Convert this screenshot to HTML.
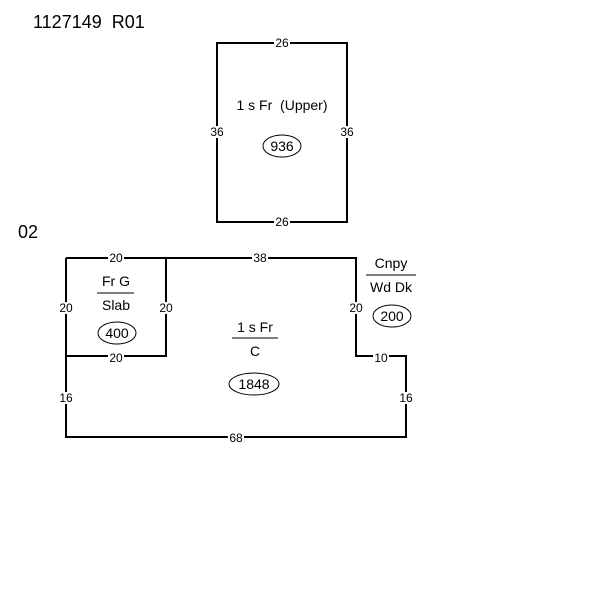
<!DOCTYPE html>
<html><head><style>body{margin:0;background:#fff}svg{display:block}text{font-family:"Liberation Sans",sans-serif;fill:#000;white-space:pre}</style></head>
<body>
<svg width="600" height="600" xmlns="http://www.w3.org/2000/svg">
<text x="33" y="28" font-size="18" xml:space="preserve">1127149  R01</text>
<text x="18" y="238" font-size="18">02</text>
<g fill="none" stroke="#000" stroke-width="2">
<rect x="217" y="43" width="130" height="179"/>
<polyline points="66,258 356,258 356,356 406,356 406,437 66,437 66,258"/>
<polyline points="166,258 166,356 66,356"/>
<line x1="97" y1="293" x2="134" y2="293" stroke-width="1"/>
<line x1="232" y1="338" x2="278" y2="338" stroke-width="1"/>
<line x1="366" y1="275" x2="416" y2="275" stroke-width="1"/>
<ellipse cx="282" cy="146" rx="19" ry="11" stroke-width="1"/>
<ellipse cx="117" cy="333" rx="19" ry="11" stroke-width="1"/>
<ellipse cx="254" cy="384" rx="25" ry="11" stroke-width="1"/>
<ellipse cx="392" cy="316" rx="19" ry="11" stroke-width="1"/>
</g>
<g font-size="12" text-anchor="middle">
<g>
<rect x="274" y="37" width="16" height="12" style="fill:#fff"/>
<rect x="274" y="216" width="16" height="12" style="fill:#fff"/>
<rect x="209" y="126" width="16" height="12" style="fill:#fff"/>
<rect x="339" y="126" width="16" height="12" style="fill:#fff"/>
<rect x="108" y="252" width="16" height="12" style="fill:#fff"/>
<rect x="252" y="252" width="16" height="12" style="fill:#fff"/>
<rect x="58" y="302" width="16" height="12" style="fill:#fff"/>
<rect x="158" y="302" width="16" height="12" style="fill:#fff"/>
<rect x="348" y="302" width="16" height="12" style="fill:#fff"/>
<rect x="108" y="350" width="16" height="12" style="fill:#fff"/>
<rect x="373" y="350" width="16" height="12" style="fill:#fff"/>
<rect x="58" y="392" width="16" height="12" style="fill:#fff"/>
<rect x="398" y="392" width="16" height="12" style="fill:#fff"/>
<rect x="228" y="431" width="16" height="12" style="fill:#fff"/>
</g>
<text x="282" y="47">26</text>
<text x="282" y="226">26</text>
<text x="217" y="136">36</text>
<text x="347" y="136">36</text>
<text x="116" y="262">20</text>
<text x="260" y="262">38</text>
<text x="66" y="312">20</text>
<text x="166" y="312">20</text>
<text x="356" y="312">20</text>
<text x="116" y="362">20</text>
<text x="381" y="362">10</text>
<text x="66" y="402">16</text>
<text x="406" y="402">16</text>
<text x="236" y="442">68</text>
</g>
<g font-size="14" text-anchor="middle">
<text x="282" y="110" xml:space="preserve">1 s Fr  (Upper)</text>
<text x="282" y="151">936</text>
<text x="116" y="286">Fr G</text>
<text x="116" y="310">Slab</text>
<text x="117" y="338">400</text>
<text x="255" y="332">1 s Fr</text>
<text x="255" y="356">C</text>
<text x="254" y="389">1848</text>
<text x="391" y="268">Cnpy</text>
<text x="391" y="292">Wd Dk</text>
<text x="392" y="321">200</text>
</g>
</svg>
</body></html>
